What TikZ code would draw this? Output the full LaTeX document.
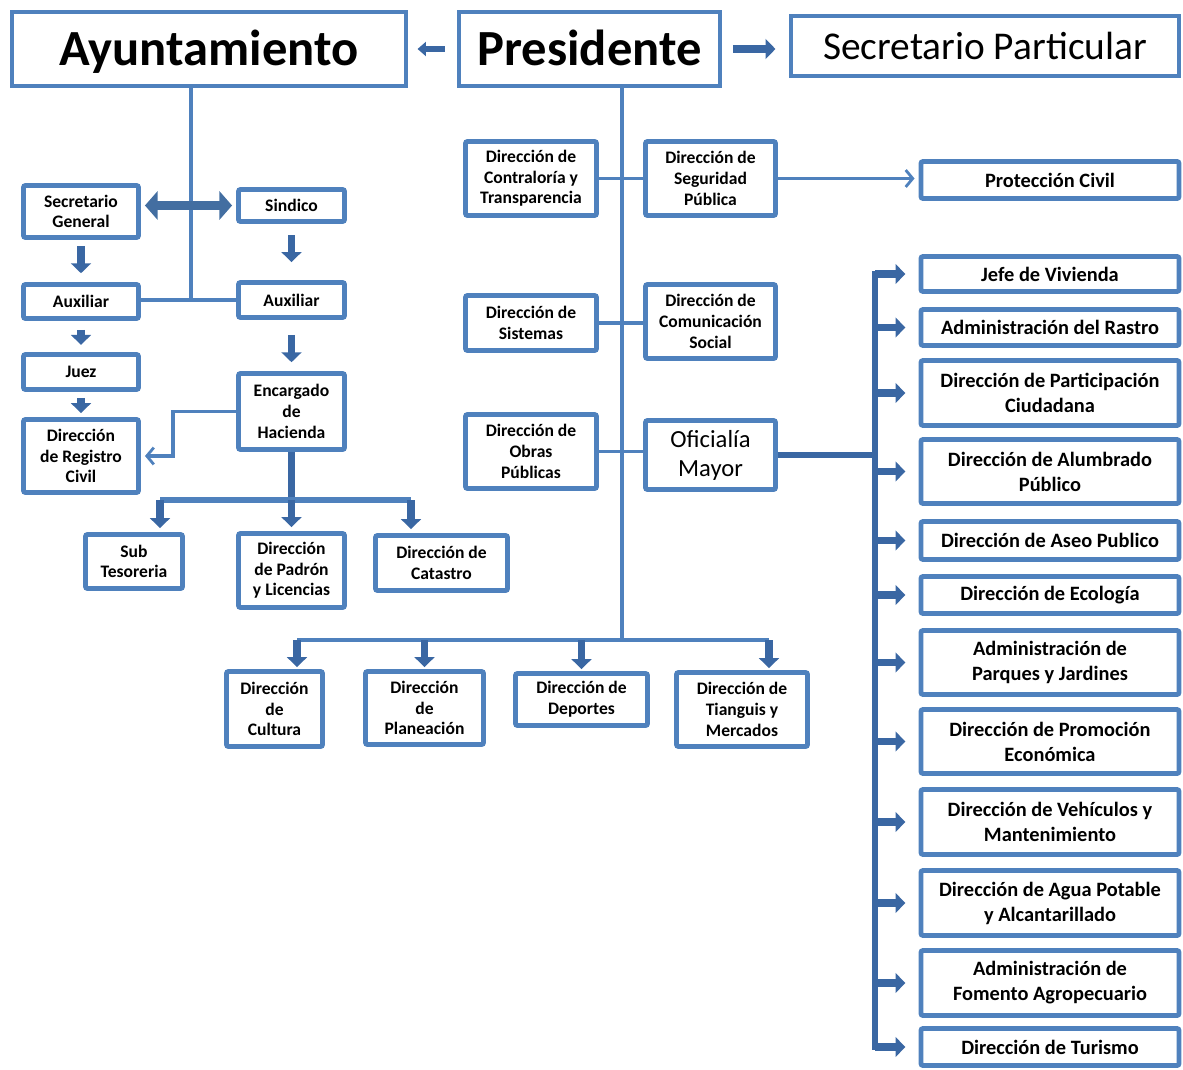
\documentclass[tikz,border=0pt]{standalone}
\usepackage{fontspec}
\setmainfont{Carlito}
\usetikzlibrary{arrows.meta,calc}
\definecolor{boxblue}{RGB}{79,129,189}
\definecolor{arrowblue}{RGB}{58,103,163}
\tikzset{
  bx/.style 2 args={minimum width=#1*0.25mm, minimum height=#2*0.25mm},
  cajatop/.style={draw=boxblue, line width=2.2pt, fill=white, inner sep=0pt, align=center},
  caja/.style={draw=boxblue, line width=3.5pt, rounded corners=1.5pt, fill=white, inner sep=0pt, align=center, font=\fontsize{12.5}{14.7}\selectfont\bfseries},
  cajader/.style={caja, font=\fontsize{14.5}{17.8}\selectfont\bfseries},
  linea/.style={draw=boxblue, line width=2.2pt},
  barra/.style={draw=boxblue, line width=3.6pt},
  barb/.style={linea, -{Straight Barb[length=5pt, width=12pt, line width=2pt]}},
  eje/.style={draw=arrowblue, line width=4.6pt},
  flecha/.style={draw=arrowblue, line width=5pt, -{Triangle[length=7pt, width=14pt]}},
  flechachica/.style={draw=arrowblue, line width=4pt, -{Triangle[length=6pt, width=10pt]}},
  doble/.style={draw=boxblue!85!black, line width=7pt, {Triangle[length=9pt, width=20pt]}-{Triangle[length=9pt, width=20pt]}},
}
\begin{document}
\begin{tikzpicture}[x=0.25mm, y=-0.25mm]
\useasboundingbox (0,0) rectangle (1183,1070);
% cabecera
\node[cajatop, bx={394}{74}, text height=27pt, text depth=4pt, font=\fontsize{36}{40}\selectfont\bfseries] (ay) at (209,49) {Ayuntamiento};
\node[cajatop, bx={261}{74}, text height=27pt, text depth=4pt, font=\fontsize{36}{40}\selectfont\bfseries] (pre) at (589.5,49) {Presidente};
\node[cajatop, bx={388}{60}, text height=22pt, text depth=3.5pt, font=\fontsize{28}{32}\selectfont] (spa) at (985,46) {Secretario Particular};
% ayuntamiento
\node[caja, bx={115}{52}] (sg) at (81,211.5) {Secretario\\General};
\node[caja, bx={106}{32}] (si) at (291.5,205.5) {Sindico};
\node[caja, bx={115}{34}] (al) at (81,301.5) {Auxiliar};
\node[caja, bx={106}{35}] (ar) at (291.5,300) {Auxiliar};
\node[caja, bx={115}{35}] (ju) at (81,372) {Juez};
\node[caja, bx={115}{73}] (rc) at (81,456) {Dirección\\de Registro\\Civil};
\node[caja, bx={106}{76}] (eh) at (291.5,411.5) {Encargado\\de\\Hacienda};
\node[caja, bx={97}{54}] (st) at (134,561.5) {Sub\\Tesoreria};
\node[caja, bx={106}{74}] (pl) at (291.5,570.5) {Dirección\\de Padrón\\y Licencias};
\node[caja, bx={132}{55}] (ca) at (441.5,563) {Dirección de\\Catastro};
% presidencia
\node[caja, bx={131}{74}] (ct) at (531,178.5) {Dirección de\\Contraloría y\\Transparencia};
\node[caja, bx={130}{74}] (seg) at (710.5,178.5) {Dirección de\\Seguridad\\Pública};
\node[caja, bx={131}{55}] (sis) at (531,323) {Dirección de\\Sistemas};
\node[caja, bx={130}{74}] (cs) at (710.5,321.5) {Dirección de\\Comunicación\\Social};
\node[caja, bx={131}{74}] (ob) at (531,451.5) {Dirección de\\Obras\\Públicas};
\node[caja, bx={130}{69}, font=\fontsize{17.5}{20.6}\selectfont] (om) at (710.5,455) {Oficialía\\Mayor};
\node[cajader, bx={258}{37}] (pc) at (1050,180) {Protección Civil};
\node[caja, bx={96}{75}] (cu) at (274.5,709) {Dirección\\de\\Cultura};
\node[caja, bx={118}{73}] (pn) at (424.5,708) {Dirección\\de\\Planeación};
\node[caja, bx={132}{52}] (de) at (581.5,699.5) {Dirección de\\Deportes};
\node[caja, bx={131}{74}] (ti) at (742,709.5) {Dirección de\\Tianguis y\\Mercados};
% oficialia mayor
\node[cajader, bx={258}{35}] (jv) at (1050,274) {Jefe de Vivienda};
\node[cajader, bx={258}{36}] (ra) at (1050,327.5) {Administración del Rastro};
\node[cajader, bx={258}{65}] (pa) at (1050,393) {Dirección de Participación\\Ciudadana};
\node[cajader, bx={258}{64}] (alu) at (1050,471.5) {Dirección de Alumbrado\\Público};
\node[cajader, bx={258}{38}] (as) at (1050,540.5) {Dirección de Aseo Publico};
\node[cajader, bx={258}{37}] (ec) at (1050,595) {Dirección de Ecología};
\node[cajader, bx={258}{64}] (pj) at (1050,662.5) {Administración de\\Parques y Jardines};
\node[cajader, bx={258}{64}] (pe) at (1050,741.5) {Dirección de Promoción\\Económica};
\node[cajader, bx={258}{65}] (ve) at (1050,822) {Dirección de Vehículos y\\Mantenimiento};
\node[cajader, bx={258}{65}] (ag) at (1050,903) {Dirección de Agua Potable\\y Alcantarillado};
\node[cajader, bx={258}{65}] (fa) at (1050,983) {Administración de\\Fomento Agropecuario};
\node[cajader, bx={258}{37}] (tu) at (1050,1047) {Dirección de Turismo};

\coordinate (aj) at (191,300);
\coordinate (hb) at (291.5,500);  \coordinate (hbl) at (160,500);  \coordinate (hbr) at (411,500);
\coordinate (ps) at (622,640);  \coordinate (pbl) at (297,640);  \coordinate (pbr) at (769,640);
\coordinate (ej) at (875,455);

\draw[flechachica, shorten <=3.2mm, shorten >=2.5mm] (pre.west) -- (ay.east);
\draw[flecha, shorten <=2.8mm, shorten >=3.5mm] (pre.east) -- (pre.east -| spa.west);
\draw[linea] (aj |- ay.south) -- (aj);   \draw[linea] (al.east |- aj) -- (aj -| ar.west);
\draw[doble, shorten <=1mm, shorten >=1mm] (sg.east |- si) -- (si.west);
\draw[flecha, shorten <=1.5mm, shorten >=2.2mm] (sg) -- (al);
\draw[flecha, shorten <=2.2mm, shorten >=1.8mm] (al) -- (ju);
\draw[flecha, shorten <=1.5mm, shorten >=1mm] (ju) -- (rc);
\draw[flecha, shorten <=2.8mm, shorten >=4.5mm] (si) -- (ar);
\draw[flecha, shorten <=3.7mm, shorten >=2.2mm] (ar) -- (eh);
\draw[barb, shorten >=1mm] (eh.west) -- ++(-63,0) |- (rc.east);
\draw[eje, line width=5.6pt] (eh.south) -- (hb);
\draw[barra] (hbl) -- (hbr);
\draw[flecha, shorten >=1mm] (hbl) -- (hbl |- st.north);
\draw[flecha, shorten >=1mm] (hb) -- (pl.north);
\draw[flecha, shorten >=1mm] (hbr) -- (hbr |- ca.north);

\draw[linea] (ps |- pre.south) -- (ps);
\draw[linea] (ct.east) -- (seg.west);
\draw[linea] (sis.east) -- (sis.east -| cs.west);
\draw[linea] (ob.east) -- (ob.east -| om.west);
\draw[barb, shorten >=1mm] (seg.east) -- (seg.east -| pc.west);
\draw[linea] (pbl) -- (pbr);
\draw[flecha, shorten >=0.5mm] (pbl) -- (pbl |- cu.north);
\draw[flecha, shorten >=0.5mm] (pn.north |- ps) -- (pn.north);
\draw[flecha, shorten >=0.5mm] (de.north |- ps) -- (de.north);
\draw[flecha, shorten >=0.5mm] (pbr) -- (pbr |- ti.north);

\draw[eje] (om.east) -- (ej);
\draw[eje, line cap=rect] (ej |- jv) -- (ej |- tu);
\draw[flecha, shorten >=3.3mm] (ej |- jv) -- (jv.west);   \draw[flecha, shorten >=3.3mm] (ej |- ra) -- (ra.west);
\draw[flecha, shorten >=3.3mm] (ej |- pa) -- (pa.west);   \draw[flecha, shorten >=3.3mm] (ej |- alu) -- (alu.west);
\draw[flecha, shorten >=3.3mm] (ej |- as) -- (as.west);   \draw[flecha, shorten >=3.3mm] (ej |- ec) -- (ec.west);
\draw[flecha, shorten >=3.3mm] (ej |- pj) -- (pj.west);   \draw[flecha, shorten >=3.3mm] (ej |- pe) -- (pe.west);
\draw[flecha, shorten >=3.3mm] (ej |- ve) -- (ve.west);   \draw[flecha, shorten >=3.3mm] (ej |- ag) -- (ag.west);
\draw[flecha, shorten >=3.3mm] (ej |- fa) -- (fa.west);   \draw[flecha, shorten >=3.3mm] (ej |- tu) -- (tu.west);
\end{tikzpicture}
\end{document}
